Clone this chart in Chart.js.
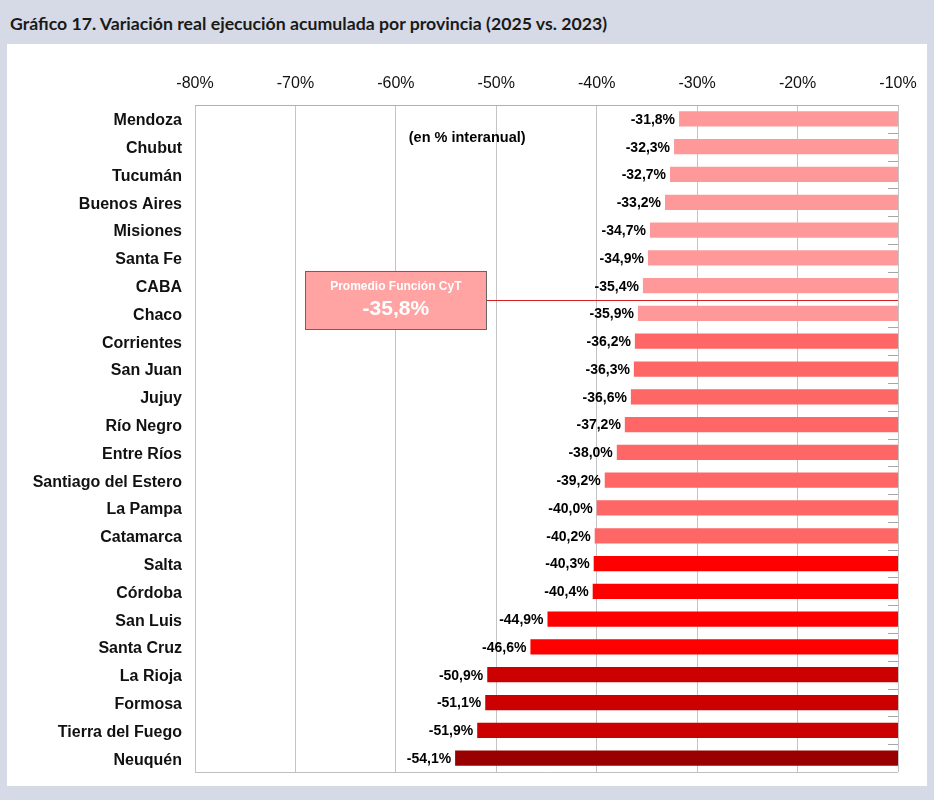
<!DOCTYPE html>
<html>
<head>
<meta charset="utf-8">
<script src="https://cdn.jsdelivr.net/npm/chart.js@4.4.1/dist/chart.umd.min.js"></script>
<style>
  html, body { margin:0; padding:0; }
  body { width:934px; height:800px; background:#D6DAE6; position:relative; overflow:hidden; }
  #title { position:absolute; left:10px; top:13px; font-family:Lato, "Liberation Sans", sans-serif; font-weight:bold; font-size:17.7px; color:#1a1a1a; white-space:nowrap; }
  #panel { position:absolute; left:7px; top:44px; width:920px; height:742px; background:#ffffff; }
  #c { position:absolute; left:0; top:0; }
</style>
</head>
<body>
<div id="title">Gráfico 17. Variación real ejecución acumulada por provincia (2025 vs. 2023)</div>
<div id="panel"></div>
<canvas id="c" width="934" height="800"></canvas>
<script>
const provinces = ["Mendoza","Chubut","Tucumán","Buenos Aires","Misiones","Santa Fe","CABA","Chaco","Corrientes","San Juan","Jujuy","Río Negro","Entre Ríos","Santiago del Estero","La Pampa","Catamarca","Salta","Córdoba","San Luis","Santa Cruz","La Rioja","Formosa","Tierra del Fuego","Neuquén"];
const variation = [-31.8,-32.3,-32.7,-33.2,-34.7,-34.9,-35.4,-35.9,-36.2,-36.3,-36.6,-37.2,-38.0,-39.2,-40.0,-40.2,-40.3,-40.4,-44.9,-46.6,-50.9,-51.1,-51.9,-54.1];
const barColors = ["#FF9999","#FF9999","#FF9999","#FF9999","#FF9999","#FF9999","#FF9999","#FF9999",
  "#FF6666","#FF6666","#FF6666","#FF6666","#FF6666","#FF6666","#FF6666","#FF6666",
  "#FF0000","#FF0000","#FF0000","#FF0000",
  "#CC0000","#CC0000","#CC0000","#990000"];
const axisMin = -80, axisMax = -10, axisStep = 10;
const averageValue = -35.8;
const averageTitle = "Promedio Función CyT";
const noteText = "(en % interanual)";

const fmt = v => v.toFixed(1).replace('.', ',') + '%';

const extras = {
  id: 'extras',
  afterDatasetsDraw(chart) {
    const ctx = chart.ctx, xs = chart.scales.x, ys = chart.scales.y, a = chart.chartArea;
    ctx.save();
    // bottom line & right short ticks
    ctx.strokeStyle = '#BFBFBF'; ctx.lineWidth = 1;
    ctx.beginPath(); ctx.moveTo(a.left, Math.round(a.bottom) + 0.5); ctx.lineTo(a.right, Math.round(a.bottom) + 0.5); ctx.stroke();
    ctx.strokeStyle = '#A6A6A6';
    for (let i = 0; i < provinces.length - 1; i++) {
      const y = Math.round(ys.getPixelForValue(i + 0.5)) + 0.5;
      ctx.beginPath(); ctx.moveTo(a.right - 10, y); ctx.lineTo(a.right, y); ctx.stroke();
    }
    // data labels
    ctx.fillStyle = '#000';
    ctx.font = 'bold 14px "Liberation Sans", Arial, sans-serif';
    ctx.textAlign = 'right'; ctx.textBaseline = 'middle';
    variation.forEach((v, i) => {
      ctx.fillText(fmt(v), xs.getPixelForValue(v) - 4, ys.getPixelForValue(i) + 1);
    });
    // note
    ctx.textAlign = 'center';
    ctx.font = 'bold 14.5px "Liberation Sans", Arial, sans-serif';
    ctx.fillText(noteText, xs.getPixelForValue(-52.9), ys.getPixelForValue(0.68));
    // average box and line
    const above = variation.filter(v => v > averageValue).length;
    const ly = Math.round(ys.getPixelForValue(above - 0.5)) + 0.5;
    const bx1 = xs.getPixelForValue(-69.0), bx2 = xs.getPixelForValue(-51.0);
    const by1 = ys.getPixelForValue(above - 1.53), by2 = ys.getPixelForValue(above + 0.56);
    ctx.strokeStyle = '#D42020'; ctx.lineWidth = 1;
    ctx.beginPath(); ctx.moveTo(bx2, ly); ctx.lineTo(a.right, ly); ctx.stroke();
    ctx.fillStyle = '#FFA3A3';
    ctx.fillRect(bx1, by1, bx2 - bx1, by2 - by1);
    ctx.strokeStyle = '#666666';
    ctx.strokeRect(Math.round(bx1) + 0.5, Math.round(by1) + 0.5, Math.round(bx2 - bx1), Math.round(by2 - by1));
    ctx.fillStyle = '#FFFFFF';
    ctx.textAlign = 'center';
    const cx = (bx1 + bx2) / 2;
    ctx.font = 'bold 12px "Liberation Sans", Arial, sans-serif';
    ctx.fillText(averageTitle, cx, by1 + 16);
    ctx.font = 'bold 21px "Liberation Sans", Arial, sans-serif';
    ctx.fillText(fmt(averageValue), cx, by1 + 38);
    ctx.restore();
  }
};

new Chart(document.getElementById('c'), {
  type: 'bar',
  data: {
    labels: provinces,
    datasets: [{
      data: variation.map(v => [v, axisMax]),
      backgroundColor: barColors,
      borderWidth: 0,
      barPercentage: 0.55,
      categoryPercentage: 1.0
    }]
  },
  options: {
    indexAxis: 'y',
    responsive: false,
    animation: false,
    devicePixelRatio: 1,
    layout: { padding: { left: 0, top: 0, right: 36, bottom: 28 } },
    plugins: { legend: { display: false }, tooltip: { enabled: false }, title: { display: false } },
    scales: {
      x: {
        position: 'top',
        min: axisMin, max: axisMax,
        afterFit(s) { s.height = 105; },
        ticks: { stepSize: axisStep, padding: 12, color: '#111', font: { family: '"Liberation Sans", Arial, sans-serif', size: 16 }, callback: v => v + '%' },
        grid: { color: '#C4C4C4', drawTicks: false, lineWidth: 1 },
        border: { display: true, color: '#B0B0B0' }
      },
      y: {
        afterFit(s) { s.width = 195; },
        ticks: { padding: 13, labelOffset: 2, color: '#111', font: { family: '"Liberation Sans", Arial, sans-serif', size: 16, weight: 'bold' } },
        grid: { display: false, drawTicks: false },
        border: { display: false }
      }
    }
  },
  plugins: [extras]
});
</script>
</body>
</html>
